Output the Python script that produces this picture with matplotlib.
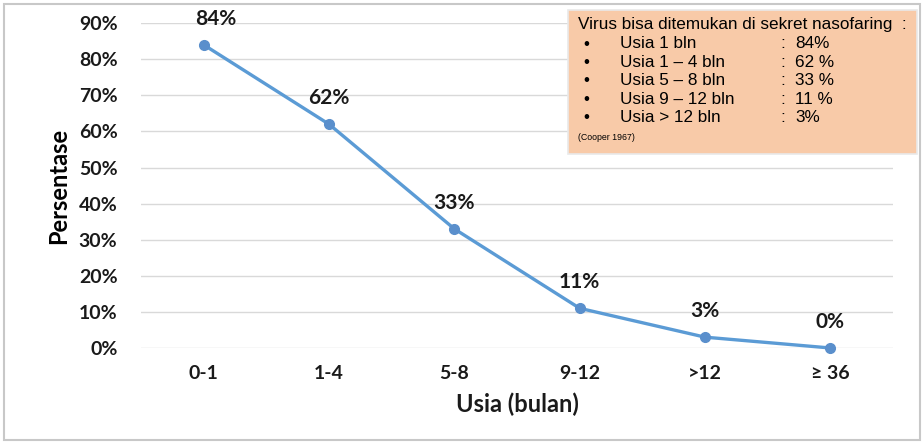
import matplotlib.pyplot as plt
from matplotlib.patches import Rectangle

# data
categories = ['0-1', '1-4', '5-8', '9-12', '>12', '≥ 36']
values = [0.84, 0.62, 0.33, 0.11, 0.03, 0.00]
point_labels = ['84%', '62%', '33%', '11%', '3%', '0%']
yticks = [0, 0.1, 0.2, 0.3, 0.4, 0.5, 0.6, 0.7, 0.8, 0.9]

box_title = 'Virus bisa ditemukan di sekret nasofaring  :'
box_rows = ['Usia 1 bln', 'Usia 1 – 4 bln', 'Usia 5 – 8 bln', 'Usia 9 – 12 bln', 'Usia > 12 bln']
box_values = ['84%', '62 %', '33 %', '11 %', '3%']
box_source = '(Cooper 1967)'

fig = plt.figure(figsize=(9.24, 4.45), dpi=100)
fig.patch.set_facecolor('white')

# light frame round the whole chart
fig.patches.append(Rectangle((0.004, 0.012), 0.992, 0.98, transform=fig.transFigure,
                             fill=False, edgecolor='#c8c8c8', linewidth=1.5))

ax = fig.add_axes([0.1526, 0.218, 0.8139, 0.730])
x = list(range(len(categories)))

ax.plot(x, values, color='#5b9bd5', linewidth=2.4, marker='o', markersize=7,
        markerfacecolor='#5a8fcc', markeredgecolor='#5a8fcc', zorder=3, clip_on=False)

for i, (v, lab) in enumerate(zip(values, point_labels)):
    dx = 0.1 if i == 0 else 0
    ax.text(i + dx, v + 0.072, lab, ha='center', va='center', fontsize=15,
            fontweight='bold', family='Lato', color='#1a1a1a')

ax.set_xlim(-0.5, len(categories) - 0.5)
ax.set_ylim(0, 0.9)
ax.set_yticks(yticks)
ax.set_yticklabels([f'{int(round(t * 100))}%' for t in yticks])
ax.set_xticks(x)
ax.set_xticklabels(categories)
ax.tick_params(length=0)
ax.tick_params(axis='y', pad=17)
ax.tick_params(axis='x', pad=12)
for t in ax.get_xticklabels() + ax.get_yticklabels():
    t.set_fontsize(14)
    t.set_fontweight('bold')
    t.set_family('Lato')
    t.set_color('#1a1a1a')

ax.grid(axis='y', color='#d9d9d9', linewidth=1)
ax.set_axisbelow(True)
for s in ax.spines.values():
    s.set_visible(False)

ax.set_ylabel('Persentase', fontsize=17, fontweight='bold', family='Lato', labelpad=6)
ax.set_xlabel('Usia (bulan)', fontsize=17, fontweight='bold', family='Lato',
              labelpad=8, color='#1a1a1a')

# note box top right
bx0, by0, bw, bh = 568 / 924, 1 - 154 / 445, 349 / 924, 144 / 445
fig.patches.append(Rectangle((bx0, by0), bw, bh, transform=fig.transFigure,
                             facecolor='#f8caa8', edgecolor='#e9e9e9', linewidth=1.2, zorder=5))
fs = 12.3
fig.text(578 / 924, 1 - 25 / 445, box_title, fontsize=fs, family='Liberation Sans',
         va='center', ha='left', zorder=6)
for k, (r, v) in enumerate(zip(box_rows, box_values)):
    yy = 1 - (44 + k * 18.4) / 445
    fig.text(583 / 924, yy, '•', fontsize=fs, family='Liberation Sans', va='center', zorder=6)
    fig.text(620 / 924, yy, r, fontsize=fs, family='Liberation Sans', va='center', zorder=6)
    fig.text(780 / 924, yy, ':', fontsize=fs, family='Liberation Sans', va='center', zorder=6)
    fig.text(795 / 924, yy, v, fontsize=fs, family='Liberation Sans', va='center', zorder=6)
fig.text(578 / 924, 1 - 138 / 445, box_source, fontsize=6.3, family='Liberation Sans',
         va='center', zorder=6)

fig.savefig('out.png', dpi=100)
